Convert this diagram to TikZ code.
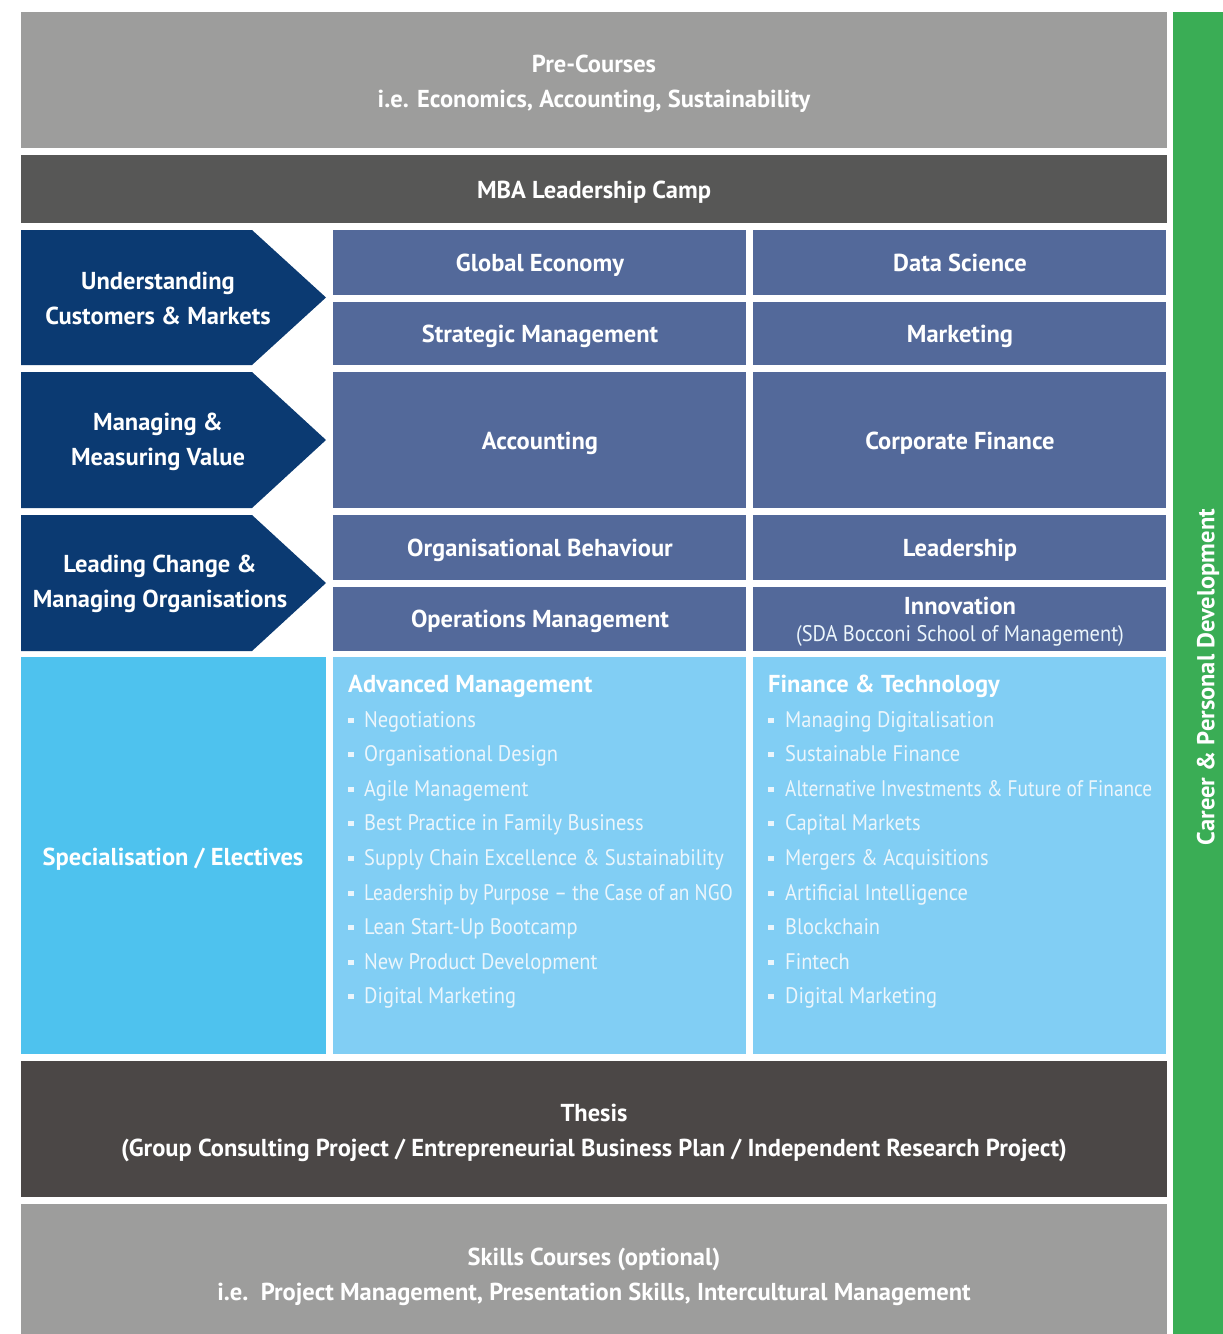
\documentclass[tikz,border=0pt]{standalone}
\usepackage{fontspec}
\setmainfont{PT Sans}
\newfontfamily\itemfont{PT Sans}[FakeStretch=0.91]
\newfontfamily\squeezefont{PT Sans}[FakeStretch=0.86]
\definecolor{lgray}{RGB}{157,157,156}
\definecolor{dgray}{RGB}{87,87,86}
\definecolor{navy}{RGB}{11,58,114}
\definecolor{course}{RGB}{83,105,154}
\definecolor{spec}{RGB}{78,194,238}
\definecolor{lblue}{RGB}{129,206,244}
\definecolor{thesis}{RGB}{75,71,70}
\definecolor{cgreen}{RGB}{58,173,85}
\definecolor{itemtxt}{RGB}{236,246,252}
\tikzset{
  blk/.style={fill=#1, draw=none, anchor=north west, inner sep=0pt, text=white, align=center,
    font=\bfseries\fontsize{24.5}{35}\selectfont},
  bold/.style={text=white, inner sep=0pt, align=center, font=\bfseries\fontsize{24.5}{35}\selectfont},
  itm/.style={text=itemtxt, inner sep=0pt, anchor=base west, font=\itemfont\fontsize{22.5}{26}\selectfont},
  head/.style={text=white, inner sep=0pt, anchor=base west, font=\bfseries\fontsize{24.5}{26}\selectfont},
  bul/.style={fill=itemtxt, minimum width=5.5pt, minimum height=5pt, inner sep=0pt},
}
\begin{document}
\begin{tikzpicture}[x=1pt,y=-1pt]
\useasboundingbox (0,0) rectangle (1223,1334);
% top bars
\node[blk=lgray, minimum width=1146pt, minimum height=136pt] (pre) at (21,12) {};
\node[bold] (pret) at (594,83.5) {Pre-Courses\\i.e. Economics, Accounting, Sustainability};
\node[blk=dgray, minimum width=1146pt, minimum height=68pt] (camp) at (21,155) {};
\node[bold] (campt) at (594,192) {MBA Leadership Camp};
% arrows
\fill[navy] (21,230) -- (252,230) -- (326,297.5) -- (252,365) -- (21,365) -- cycle;
\fill[navy] (21,372) -- (252,372) -- (326,440) -- (252,508) -- (21,508) -- cycle;
\fill[navy] (21,515) -- (252,515) -- (326,583) -- (252,651) -- (21,651) -- cycle;
\node[bold] (a1) at (158,298.5) {Understanding\\Customers \& Markets};
\node[bold] (a2) at (158,441.5) {Managing \&\\Measuring Value};
\node[bold] (a3) at (160,583.5) {Leading Change \&\\Managing Organisations};
% courses
\node[blk=course, minimum width=413pt, minimum height=65pt] (ge) at (333,230) {};
\node[blk=course, minimum width=413pt, minimum height=65pt] (ds) at (753,230) {};
\node[blk=course, minimum width=413pt, minimum height=63pt] (sm) at (333,302) {};
\node[blk=course, minimum width=413pt, minimum height=63pt] (mk) at (753,302) {};
\node[blk=course, minimum width=413pt, minimum height=136pt] (ac) at (333,372) {};
\node[blk=course, minimum width=413pt, minimum height=136pt] (cf) at (753,372) {};
\node[blk=course, minimum width=413pt, minimum height=65pt] (ob) at (333,515) {};
\node[blk=course, minimum width=413pt, minimum height=65pt] (ld) at (753,515) {};
\node[blk=course, minimum width=413pt, minimum height=64pt] (om) at (333,587) {};
\node[blk=course, minimum width=413pt, minimum height=64pt] (in) at (753,587) {};
\tikzset{cl/.style={bold, anchor=base, font=\bfseries\fontsize{24.5}{26}\selectfont}}
\node[cl] (get) at (540,271) {Global Economy};
\node[cl] (dst) at (960,271) {Data Science};
\node[cl] (smt) at (540,342) {Strategic Management};
\node[cl] (mkt) at (960,342) {Marketing};
\node[cl] (act) at (540,449) {Accounting};
\node[cl] (cft) at (960,449) {Corporate Finance};
\node[cl] (obt) at (540,556) {Organisational Behaviour};
\node[cl] (ldt) at (960,556) {Leadership};
\node[cl] (omt) at (540,627) {Operations Management};
\node[cl] (inn) at (960,614) {Innovation};
\node[text=itemtxt, inner sep=0pt, anchor=base, font=\itemfont\fontsize{22.5}{26}\selectfont] (sda) at (960,641) {(SDA Bocconi School of Management)};
% specialisation
\node[blk=spec, minimum width=305pt, minimum height=397pt] (sp) at (21,657) {};
\node[cl] (spt) at (173,865) {Specialisation / Electives};
\node[blk=lblue, minimum width=413pt, minimum height=397pt] (adv) at (333,657) {};
\node[blk=lblue, minimum width=413pt, minimum height=397pt] (fin) at (753,657) {};
\node[head] (h1) at (348,692) {Advanced Management};
\node[head] (h2) at (768,692) {Finance \& Technology};
\foreach \t [count=\i from 0] in {Negotiations, Organisational Design, Agile Management,
  Best Practice in Family Business, Supply Chain Excellence \& Sustainability,
  {\squeezefont Leadership by Purpose – the Case of an NGO}, Lean Start-Up Bootcamp,
  New Product Development, Digital Marketing}{
  \node[bul] (b1\i) at (351,720+34.6*\i) {};
  \node[itm] (l\i) at (364,727+34.6*\i) {\t};
}
\foreach \t [count=\i from 0] in {Managing Digitalisation, Sustainable Finance,
  {\squeezefont Alternative Investments \& Future of Finance}, Capital Markets, Mergers \& Acquisitions,
  Artificial Intelligence, Blockchain, Fintech, Digital Marketing}{
  \node[bul] (b2\i) at (771,720+34.6*\i) {};
  \node[itm] (r\i) at (785,727+34.6*\i) {\t};
}
% bottom bars
\node[blk=thesis, minimum width=1146pt, minimum height=136pt] (th) at (21,1061) {};
\node[bold] (tht) at (594,1133)
  {Thesis\\(Group Consulting Project / Entrepreneurial Business Plan / Independent Research Project)};
\node[blk=lgray, minimum width=1146pt, minimum height=130pt] (sk) at (21,1204) {};
\node[bold] (skt) at (594,1276.5)
  {Skills Courses (optional)\\i.e.\ \ Project Management, Presentation Skills, Intercultural Management};
% green bar
\node[blk=cgreen, minimum width=50pt, minimum height=1322pt] (gr) at (1173,12) {};
\node[bold, rotate=90] (cpd) at (1208,677) {Career \& Personal Development};
\end{tikzpicture}
\end{document}
